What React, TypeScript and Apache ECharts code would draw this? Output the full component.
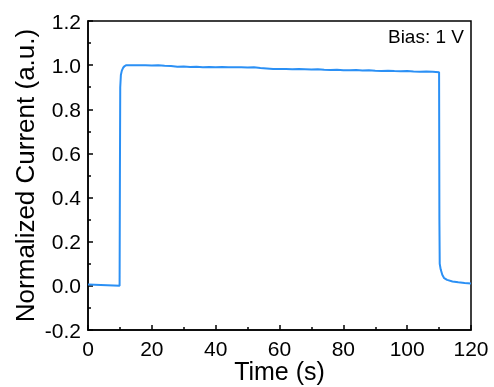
import React, { useEffect, useRef } from "react";
import * as echarts from "echarts";

const timeS: number[] = [
  0, 2, 4, 6, 8, 9.9, 10.0, 10.1, 10.3, 10.6, 11, 11.5, 12,
  14, 16, 18, 20, 22, 24, 26, 28, 30, 32, 34, 36, 38, 40, 42, 44, 46, 48, 50,
  52, 54, 56, 58, 60, 62, 64, 66, 68, 70, 72, 74, 76, 78, 80, 82, 84, 86, 88, 90,
  92, 94, 96, 98, 100, 102, 104, 106, 108, 110,
  110.1, 110.2, 110.5, 111, 111.6, 112.5, 114.2, 116, 118, 120,
];
const current: number[] = [
  0.006, 0.005, 0.004, 0.003, 0.002, 0.0, 0.5, 0.9, 0.955, 0.975, 0.988, 0.996, 1.0,
  1.0, 1.0, 0.999, 0.998, 0.999, 0.997, 0.996, 0.993, 0.994, 0.992, 0.993, 0.991, 0.992, 0.991, 0.992, 0.99, 0.991, 0.99, 0.989,
  0.99, 0.987, 0.985, 0.983, 0.982, 0.983, 0.981, 0.982, 0.981, 0.98, 0.981, 0.979, 0.978, 0.979, 0.977, 0.977, 0.978, 0.976, 0.977, 0.975,
  0.974, 0.975, 0.973, 0.972, 0.973, 0.971, 0.97, 0.971, 0.97, 0.968,
  0.3, 0.1, 0.075, 0.05, 0.035, 0.027, 0.02, 0.016, 0.013, 0.011,
];

const xTitle = "Time (s)";
const yTitle = "Normalized Current (a.u.)";
const annotation = "Bias: 1 V";

export default function App() {
  const ref = useRef<HTMLDivElement>(null);
  useEffect(() => {
    if (!ref.current) return;
    const chart = echarts.init(ref.current, undefined, { renderer: "svg" });
    const font = "'Liberation Sans', Arial, sans-serif";
    chart.setOption({
      animation: false,
      grid: {
        left: 88,
        right: 23,
        top: 21,
        bottom: 57,
        outerBoundsMode: "none",
        containLabel: false,
        show: true,
        borderColor: "#000",
        borderWidth: 1.5,
      },
      xAxis: {
        type: "value",
        min: 0,
        max: 120,
        interval: 20,
        name: xTitle,
        nameLocation: "middle",
        nameGap: 28,
        nameMoveOverlap: false,
        nameTextStyle: { fontFamily: font, fontSize: 25, color: "#000" },
        axisLine: { show: true, onZero: false, lineStyle: { color: "#000", width: 1.5 } },
        axisTick: { show: true, inside: true, length: 5, lineStyle: { color: "#000", width: 1.5 } },
        minorTick: { show: true, splitNumber: 2, length: 3, lineStyle: { color: "#000", width: 1.5 } },
        axisLabel: { fontFamily: font, fontSize: 21, lineHeight: 18, color: "#000", margin: 9 },
        splitLine: { show: false },
      },
      yAxis: {
        type: "value",
        min: -0.2,
        max: 1.2,
        interval: 0.2,
        name: yTitle,
        nameLocation: "middle",
        nameGap: 50,
        nameMoveOverlap: false,
        nameTextStyle: { fontFamily: font, fontSize: 26, color: "#000" },
        axisLine: { show: true, onZero: false, lineStyle: { color: "#000", width: 1.5 } },
        axisTick: { show: true, inside: true, length: 5, lineStyle: { color: "#000", width: 1.5 } },
        minorTick: { show: true, splitNumber: 2, length: 3, lineStyle: { color: "#000", width: 1.5 } },
        axisLabel: {
          fontFamily: font,
          fontSize: 21,
          color: "#000",
          margin: 7,
          formatter: (v: number) => v.toFixed(1),
        },
        splitLine: { show: false },
      },
      graphic: [
        {
          type: "text",
          right: 30,
          top: 27,
          style: { text: annotation, font: `19px ${font}`, fill: "#000" },
        },
      ],
      series: [
        {
          type: "line",
          data: timeS.map((t, i) => [t, current[i]]),
          showSymbol: false,
          symbol: "none",
          lineStyle: { color: "#2b90f5", width: 2 },
        },
      ],
    });
    return () => chart.dispose();
  }, []);
  return (
    <div
      ref={ref}
      style={{ position: "fixed", left: 0, top: 0, width: 494, height: 387 }}
    />
  );
}
